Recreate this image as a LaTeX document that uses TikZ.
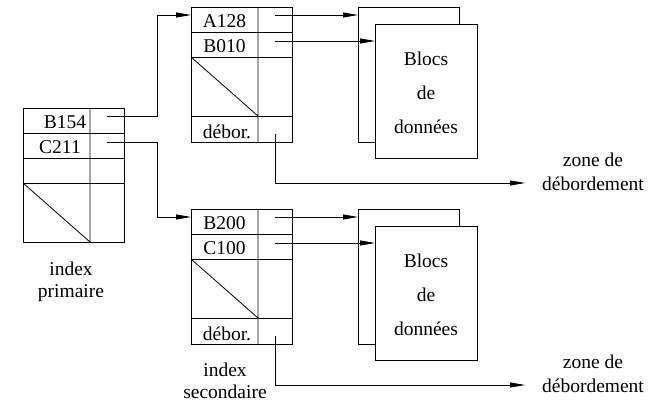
\documentclass[tikz,border=0pt]{standalone}
\usepackage{fontspec}
\setmainfont{Liberation Serif}
\usetikzlibrary{arrows.meta}

\begin{document}
\begin{tikzpicture}[x=1pt, y=-1pt,
  trait/.style={line width=0.8pt},
  fleche/.style={trait, -{Triangle[length=15pt,width=5pt]}},
  texte/.style={font=\fontsize{19.5}{22}\selectfont, inner sep=0pt, align=center},
  page/.style={trait, fill=white}
]
  \useasboundingbox (0,0) rectangle (657,407);

  % index primaire
  \draw[trait] (23,108) rectangle (124,242);
  \draw[trait] (23,133) -- (124,133) (23,158) -- (124,158) (23,183) -- (124,183);
  \draw[trait] (90,108) -- (90,242) (23,183) -- (90,242);
  \node[texte] (B154) at (65,122) {B154};
  \node[texte] (C211) at (60,147.5) {C211};
  \node[texte] (prim) at (71,282) {index\\primaire};
  \coordinate (pB154) at (107,116);
  \coordinate (pC211) at (107,142);

  % index secondaires, blocs et debordement
  \foreach \dy/\n/\ka/\kb in {0/h/A128/B010, 202/b/B200/C100} {
    \draw[trait] (191,7+\dy) rectangle (292,142+\dy);
    \draw[trait] (191,32+\dy) -- (292,32+\dy) (191,57+\dy) -- (292,57+\dy)
                 (191,116+\dy) -- (292,116+\dy);
    \draw[trait] (258,7+\dy) -- (258,142+\dy) (191,57+\dy) -- (258,116+\dy);
    \node[texte] (ka\n) at (224.5,21+\dy) {\ka};
    \node[texte] (kb\n) at (224.5,46.5+\dy) {\kb};
    \node[texte] (deb\n) at (227,132+\dy) {débor.};
    \coordinate (entree\n) at (191,15+\dy);
    \coordinate (pa\n) at (275,15+\dy);
    \coordinate (pb\n) at (275,41+\dy);
    \coordinate (pd\n) at (275,134+\dy);
    % pages de donnees
    \draw[page] (358,7+\dy) rectangle (459,142+\dy);
    \draw[page] (375,24+\dy) rectangle (477,158+\dy);
    \node[texte, font=\fontsize{19.5}{34}\selectfont] (blocs\n) at (426,93+\dy)
      {Blocs\\de\\données};
    \coordinate (ea\n) at (358,15+\dy);
    \coordinate (eb\n) at (375,41+\dy);
    \draw[fleche] (pa\n) -- (ea\n);
    \draw[fleche] (pb\n) -- (eb\n);
    % zone de debordement
    \node[texte, font=\fontsize{19.5}{24}\selectfont] (zone\n) at (593,172+\dy)
      {zone de\\débordement};
    \coordinate (ez\n) at (525,183+\dy);
    \draw[fleche] (pd\n) |- (ez\n);
  }
  \node[texte] (sec) at (225,381) {index\\secondaire};

  \draw[fleche] (pB154) -- (157,116) |- (entreeh);
  \draw[fleche] (pC211) -- (157,142) |- (entreeb);
\end{tikzpicture}
\end{document}
